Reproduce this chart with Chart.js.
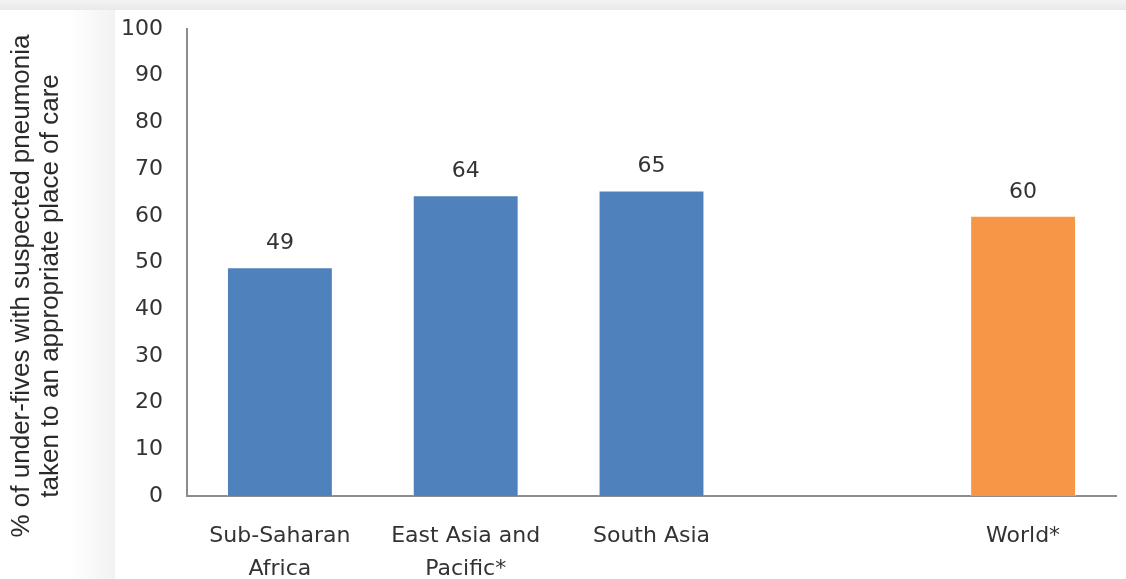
<!DOCTYPE html>
<html>
<head>
<meta charset="utf-8">
<script src="https://cdn.jsdelivr.net/npm/chart.js@4.4.0/dist/chart.umd.min.js"></script>
<style>
  html, body { margin: 0; padding: 0; background: #ffffff; }
  #wrap { position: relative; width: 1126px; height: 579px; overflow: hidden; }
  #topband { position: absolute; left: 0; top: 0; width: 1126px; height: 10px;
    background: linear-gradient(#f3f3f3, #e9e9e9); }
  #sideband { position: absolute; left: 70px; top: 10px; width: 45px; height: 569px;
    background: linear-gradient(to right, #ffffff, #f2f2f2); }
  canvas { position: absolute; left: 0; top: 0; }
</style>
</head>
<body>
<div id="wrap">
  <div id="topband"></div>
  <div id="sideband"></div>
  <canvas id="chart" width="1126" height="579"></canvas>
</div>
<script>
// 資料
const categories = [['Sub-Saharan', 'Africa'], ['East Asia and', 'Pacific*'], 'South Asia', '', 'World*'];
const values = [49, 64.4, 65.4, null, 60];
const barColors = ['#4f81bd', '#4f81bd', '#4f81bd', '#4f81bd', '#f79646'];
const yTicks = [0, 10, 20, 30, 40, 50, 60, 70, 80, 90, 100];
const yTitle = ['% of under-fives with suspected pneumonia', 'taken to an appropriate place of care'];

const tickFont = { family: 'DejaVu Sans', size: 22 };

// 數值標籤
const valueLabels = {
    id: 'valueLabels',
    afterDatasetsDraw(chart) {
        const ctx = chart.ctx;
        const meta = chart.getDatasetMeta(0);
        ctx.save();
        ctx.font = '22px "DejaVu Sans"';
        ctx.fillStyle = '#333333';
        ctx.textAlign = 'center';
        ctx.textBaseline = 'middle';
        meta.data.forEach(function(bar, i) {
            if (values[i] == null) return;
            ctx.fillText(String(Math.round(values[i])), bar.x, bar.y - 24);
        });
        ctx.restore();
    }
};

// Y 軸標題
const yTitlePlugin = {
    id: 'yTitlePlugin',
    afterDraw(chart) {
        const ctx = chart.ctx;
        ctx.save();
        ctx.translate(22, 286);
        ctx.rotate(-Math.PI / 2);
        ctx.font = '26px "Liberation Sans"';
        ctx.fillStyle = '#2a2a2a';
        ctx.textAlign = 'center';
        ctx.textBaseline = 'middle';
        yTitle.forEach(function(line, i) {
            ctx.fillText(line, 0, i * 29);
        });
        ctx.restore();
    }
};

const ctx = document.getElementById('chart').getContext('2d');
new Chart(ctx, {
    type: 'bar',
    data: {
        labels: categories,
        datasets: [{
            data: values,
            backgroundColor: barColors,
            borderColor: 'rgba(255,255,255,0.35)',
            borderWidth: 1,
            categoryPercentage: 1,
            barPercentage: 0.57
        }]
    },
    options: {
        responsive: false,
        animation: false,
        layout: { padding: { top: 29, right: 10, left: 0, bottom: 0 } },
        plugins: {
            legend: { display: false },
            tooltip: { enabled: false }
        },
        scales: {
            x: {
                grid: { display: false, drawTicks: false },
                border: { color: '#8c8c8c', width: 2 },
                ticks: {
                    font: { family: 'DejaVu Sans', size: 22, lineHeight: 1.5 },
                    color: '#333333',
                    padding: 24,
                    maxRotation: 0,
                    autoSkip: false
                },
                afterFit(scale) { scale.height = 83; }
            },
            y: {
                min: 0,
                max: 100,
                afterBuildTicks(scale) { scale.ticks = yTicks.map(function(v) { return { value: v }; }); },
                grid: { display: false, drawTicks: false },
                border: { color: '#8c8c8c', width: 2 },
                ticks: {
                    font: tickFont,
                    color: '#333333',
                    padding: 24
                },
                afterFit(scale) {
                    scale.width = 187;
                    scale.paddingTop = 0;
                    scale.paddingBottom = 0;
                }
            }
        }
    },
    plugins: [valueLabels, yTitlePlugin]
});
</script>
</body>
</html>
